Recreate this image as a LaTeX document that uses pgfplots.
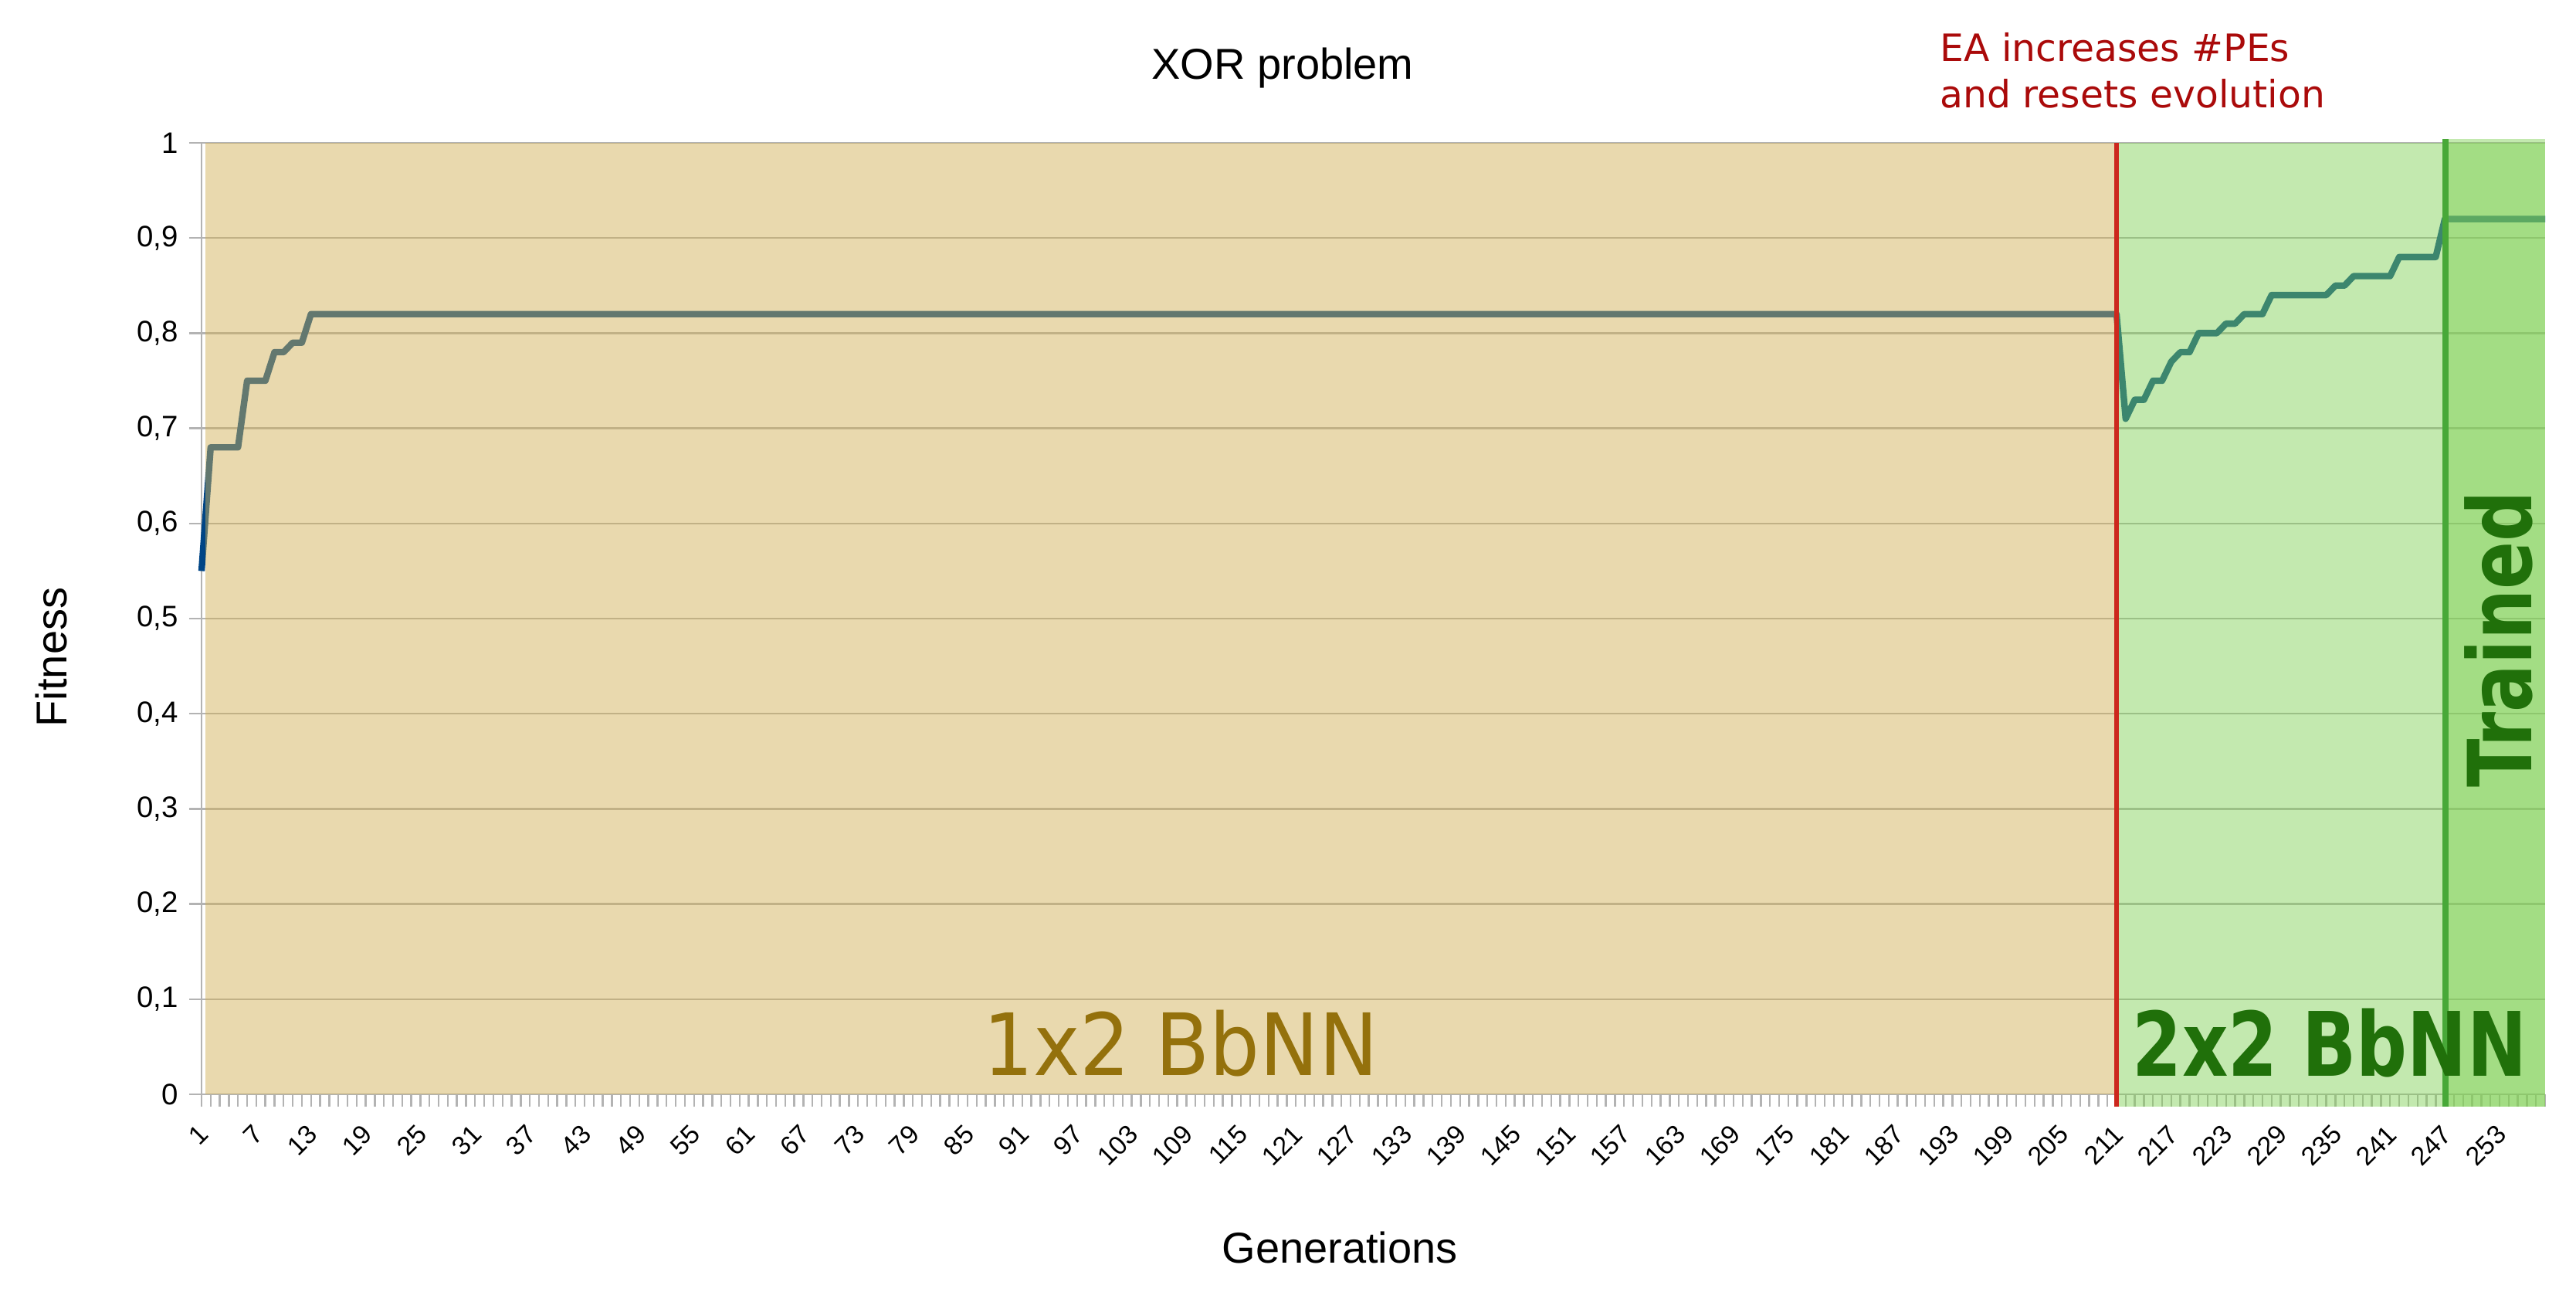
\documentclass[border=0pt]{standalone}
\usepackage{pgfplots}
\pgfplotsset{compat=1.18}
\usepackage{fontspec}
\usepackage{graphicx}
\setmainfont{Liberation Sans}
\newfontfamily\dejavu{DejaVu Sans}

\definecolor{serie}{RGB}{0,69,134}
\definecolor{tanov}{RGB}{209,176,86}
\definecolor{greenov}{RGB}{128,208,85}
\definecolor{gridc}{RGB}{179,179,179}
\definecolor{redline}{RGB}{204,40,30}
\definecolor{greenline}{RGB}{72,168,56}
\definecolor{olivetxt}{RGB}{148,113,12}
\definecolor{dkgreen}{RGB}{32,112,10}
\definecolor{annot}{RGB}{170,10,10}

\begin{document}
\begin{tikzpicture}
\useasboundingbox (0,0) rectangle (834pt,418pt);
\begin{axis}[
  at={(65.25pt,63.75pt)}, anchor=south west,
  scale only axis, width=758.75pt, height=308pt,
  xmin=1, xmax=258, ymin=0, ymax=1,
  clip=false,
  axis x line*=bottom, axis y line*=left,
  axis line style={gridc, line width=0.7pt},
  xtick={1,7,...,253}, minor xtick={1,...,258},
  ytick={0,0.1,0.2,0.3,0.4,0.5,0.6,0.7,0.8,0.9,1},
  tick align=outside, major tick length=4pt, minor tick length=4pt,
  tick style={gridc, line width=0.6pt},
  ymajorgrids, grid style={gridc, line width=0.6pt},
  xticklabel style={font=\fontsize{8.5}{8.5}\selectfont, rotate=45, anchor=east,
    inner sep=0pt, xshift=-4.75pt, yshift=-5.75pt},
  yticklabel style={font=\fontsize{9.6}{10}\selectfont},
  /pgf/number format/assume math mode=true,
  /pgf/number format/use comma,
]
% fitness per generation (value changes only)
\addplot[serie, line width=2.1pt, line join=round] coordinates {
  (1,0.55) (2,0.68) (5,0.68) (6,0.75) (8,0.75) (9,0.78) (10,0.78)
  (11,0.79) (12,0.79) (13,0.82) (211,0.82)
  (212,0.71) (213,0.73) (214,0.73) (215,0.75) (216,0.75) (217,0.77)
  (218,0.78) (219,0.78) (220,0.80) (222,0.80) (223,0.81) (224,0.81)
  (225,0.82) (227,0.82) (228,0.84) (234,0.84) (235,0.85) (236,0.85)
  (237,0.86) (241,0.86) (242,0.88) (246,0.88) (247,0.92) (258,0.92)
};
% phase shading
\addplot[draw=none, fill=tanov, fill opacity=0.48] coordinates {(1.4,0) (211,0) (211,1) (1.4,1)};
\addplot[draw=none, fill=greenov, fill opacity=0.47] coordinates {(211,-0.013) (258,-0.013) (258,1) (211,1)};
\addplot[draw=none, fill=greenov, fill opacity=0.47] coordinates {(247.1,-0.013) (258,-0.013) (258,1.004) (247.1,1.004)};
\addplot[redline, line width=1.3pt] coordinates {(211,-0.013) (211,1)};
\addplot[greenline, line width=2pt] coordinates {(247.1,-0.013) (247.1,1.004)};
\end{axis}
\node[font=\fontsize{14}{14}\selectfont, anchor=base] at (415.25pt,392.3pt) {XOR problem};
\node[font=\fontsize{14}{14}\selectfont, anchor=base] at (433.75pt,9.25pt) {Generations};
\node[font=\fontsize{14}{14}\selectfont, rotate=90] at (16.5pt,205.25pt) {Fitness};
\node[font=\dejavu\fontsize{12.2}{12.2}\selectfont, text=annot, anchor=base west, inner sep=0pt] at (627.9pt,398pt) {EA increases \#PEs};
\node[font=\dejavu\fontsize{12.2}{12.2}\selectfont, text=annot, anchor=base west, inner sep=0pt] at (627.9pt,383pt) {and resets evolution};
\node[text=olivetxt, anchor=base, inner sep=0pt] at (382.25pt,69.8pt) {\scalebox{0.92}[1]{\dejavu\fontsize{27.8}{28}\selectfont 1x2 BbNN}};
\node[text=dkgreen, anchor=base, inner sep=0pt] at (754.25pt,69.6pt) {\scalebox{0.8}[1]{\dejavu\bfseries\fontsize{28.8}{29}\selectfont 2x2 BbNN}};
\node[text=dkgreen, rotate=90, inner sep=0pt] at (809pt,211pt) {\scalebox{0.8}[1]{\dejavu\bfseries\fontsize{28.6}{29}\selectfont Trained}};
\end{tikzpicture}
\end{document}
